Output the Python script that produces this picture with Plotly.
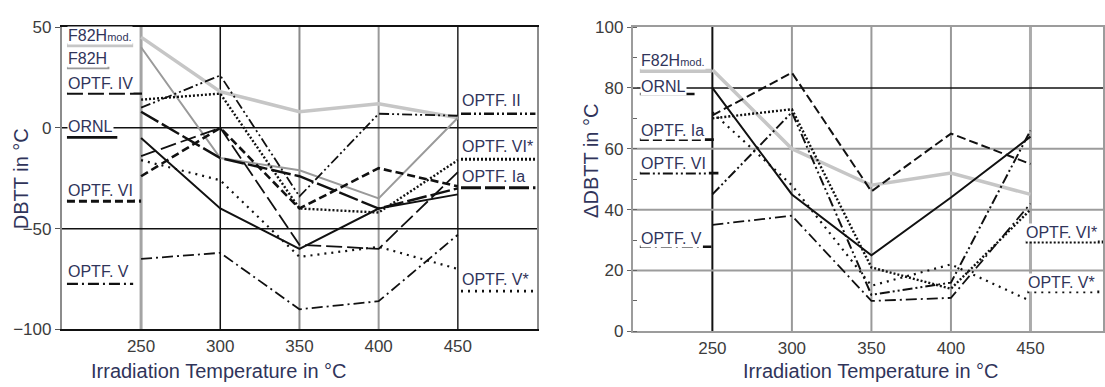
import plotly.graph_objects as go

# Irradiation temperatures (°C)
temps = [250, 300, 350, 400, 450]

# ---- Left panel: DBTT (°C) ----
dbtt_f82hmod = [45, 18, 8, 12, 5]
dbtt_f82h = [40, -15, -21, -35, 5]
dbtt_iv = [-14, 0, -58, -60, -22]
dbtt_ornl = [-5, -40, -60, -40, -33]
dbtt_vi = [-24, 0, -40, -20, -29]
dbtt_v = [-65, -62, -90, -86, -53]
dbtt_ii = [10, 26, -34, 7, 6]
dbtt_vistar = [14, 17, -40, -42, -16]
dbtt_ia = [8, -15, -24, -40, -30]
dbtt_vstar = [-16, -26, -64, -59, -70]

# ---- Right panel: ΔDBTT (°C) ----
ddbtt_f82hmod = [86, 60, 48, 52, 45]
ddbtt_ornl = [80, 45, 25, 44, 64]
ddbtt_ia = [71, 85, 46, 65, 55]
ddbtt_vi = [45, 72, 12, 16, 66]
ddbtt_v = [35, 38, 10, 11, 42]
ddbtt_vistar = [70, 73, 21, 14, 40]
ddbtt_vstar = [72, 48, 15, 22, 10]

x_ticks = [250, 300, 350, 400, 450]
y1_ticks = [-100, -50, 0, 50]
y2_ticks = [0, 20, 40, 60, 80, 100]

# line styles shared by curves and their key lines
STY = {
    "f82hmod": dict(color="#c6c6c6", width=3.5, dash="solid"),
    "f82h": dict(color="#9a9a9a", width=2, dash="solid"),
    "iv": dict(color="#111", width=1.8, dash="16px,5px"),
    "ornl": dict(color="#111", width=2, dash="solid"),
    "vi_l": dict(color="#111", width=2.6, dash="8px,4px"),
    "v": dict(color="#111", width=1.8, dash="11px,4px,2px,4px"),
    "ii": dict(color="#111", width=1.8, dash="10px,3px,2px,3px,2px,3px"),
    "vistar": dict(color="#111", width=2.4, dash="2px,2px"),
    "ia_l": dict(color="#111", width=2.4, dash="20px,4px"),
    "vstar": dict(color="#111", width=2.2, dash="2px,5px"),
    "ia_r": dict(color="#111", width=2, dash="9px,4px"),
    "vi_r": dict(color="#111", width=2, dash="10px,3px,2px,3px,2px,3px"),
}

fig = go.Figure()

left_series = [
    (dbtt_f82hmod, "f82hmod"), (dbtt_f82h, "f82h"), (dbtt_iv, "iv"),
    (dbtt_vi, "vi_l"), (dbtt_v, "v"), (dbtt_ii, "ii"), (dbtt_vistar, "vistar"),
    (dbtt_ia, "ia_l"), (dbtt_vstar, "vstar"), (dbtt_ornl, "ornl"),
]
for vals, key in left_series:
    fig.add_trace(go.Scatter(x=temps, y=vals, mode="lines", line=STY[key],
                             xaxis="x", yaxis="y", showlegend=False, hoverinfo="skip"))

right_series = [
    (ddbtt_f82hmod, "f82hmod"), (ddbtt_ia, "ia_r"), (ddbtt_vi, "vi_r"),
    (ddbtt_v, "v"), (ddbtt_vistar, "vistar"), (ddbtt_vstar, "vstar"),
    (ddbtt_ornl, "ornl"),
]
for vals, key in right_series:
    fig.add_trace(go.Scatter(x=temps, y=vals, mode="lines", line=STY[key],
                             xaxis="x2", yaxis="y2", showlegend=False, hoverinfo="skip"))

shapes = []
# grid lines (individual colours)
v1_colors = {250: ("#a4a4a4", 3), 300: ("#111", 1.5), 350: ("#8a8a8a", 2),
             400: ("#9a9a9a", 2), 450: ("#222", 1.5)}
for xv in x_ticks:
    c, w = v1_colors[xv]
    shapes.append(dict(type="line", xref="x", yref="y domain", x0=xv, x1=xv, y0=0, y1=1,
                       line=dict(color=c, width=w), layer="below"))
for yv in [-50, 0]:
    shapes.append(dict(type="line", xref="x domain", yref="y", x0=0, x1=1, y0=yv, y1=yv,
                       line=dict(color="#111", width=1.5), layer="below"))

v2_colors = {250: ("#111", 2), 300: ("#999", 2), 350: ("#999", 2),
             400: ("#999", 2), 450: ("#ababab", 3)}
for xv in x_ticks:
    c, w = v2_colors[xv]
    shapes.append(dict(type="line", xref="x2", yref="y2 domain", x0=xv, x1=xv, y0=0, y1=1,
                       line=dict(color=c, width=w), layer="below"))
for yv in [20, 40, 60, 80]:
    c, w = ("#111", 1.5) if yv == 80 else ("#9c9c9c", 2)
    shapes.append(dict(type="line", xref="x2 domain", yref="y2", x0=0, x1=1, y0=yv, y1=yv,
                       line=dict(color=c, width=w), layer="below"))

LBL = "#30345a"
annotations = []

def label(text, xref, yref, x, y, key, kx0, kx1, ky):
    annotations.append(dict(text=text, xref=xref, yref=yref, x=x, y=y, xanchor="left",
                            yanchor="middle", showarrow=False, bgcolor="white", borderpad=0,
                            font=dict(family="Liberation Sans, Arial, sans-serif", size=16, color=LBL)))
    st = STY[key]
    shapes.append(dict(type="line", xref=xref, yref=yref, x0=kx0, x1=kx1, y0=ky, y1=ky,
                       line=dict(color=st["color"], width=st["width"] + 0.6, dash=st["dash"]),
                       layer="above"))

MOD = 'F82H<span style="font-size:11px">mod.</span>'
# left panel, left column
label(MOD, "x", "y", 203.5, 46, "f82hmod", 203.2, 245, 41)
label("F82H", "x", "y", 203.5, 34.5, "f82h", 203.2, 230, 29.7)
label("OPTF. IV", "x", "y", 203.5, 22, "iv", 203.2, 250.6, 17)
label("ORNL", "x", "y", 203.5, 0.5, "ornl", 203.2, 235, -4.7)
label("OPTF. VI", "x", "y", 203.5, -31, "vi_l", 203.2, 250, -36.3)
label("OPTF. V", "x", "y", 203.5, -71.5, "v", 203.2, 245, -77.4)
# left panel, right column
label("OPTF. II", "x", "y", 452, 13.5, "ii", 452, 499, 7)
label("OPTF. VI*", "x", "y", 452, -9, "vistar", 452, 499, -15.6)
label("OPTF. Ia", "x", "y", 452, -24, "ia_l", 452, 499, -29.7)
label("OPTF. V*", "x", "y", 452, -75, "vstar", 452, 499, -81)
# right panel, left column
label(MOD, "x2", "y2", 204.4, 89, "f82hmod", 204.4, 249.4, 85.6)
label("ORNL", "x2", "y2", 204.4, 80.6, "ornl", 204.4, 238.8, 78)
label("OPTF. Ia", "x2", "y2", 204.4, 66, "ia_r", 204.4, 252.5, 63)
label("OPTF. VI", "x2", "y2", 204.4, 55, "vi_r", 204.4, 253.8, 52)
label("OPTF. V", "x2", "y2", 204.4, 30.6, "v", 204.4, 249.4, 27.8)
# right panel, right column
label("OPTF. VI*", "x2", "y2", 446.5, 32.5, "vistar", 447, 495.6, 29.4)
label("OPTF. V*", "x2", "y2", 448, 16, "vstar", 448, 495.6, 13)

TITLE_FONT = dict(family="Liberation Sans, Arial, sans-serif", size=20, color=LBL)
annotations += [
    dict(text="Irradiation Temperature in °C", xref="x", yref="paper", x=299, y=0,
         xanchor="center", yanchor="bottom", yshift=-7, showarrow=False, font=TITLE_FONT),
    dict(text="Irradiation Temperature in °C", xref="x2", yref="paper", x=350, y=0,
         xanchor="center", yanchor="bottom", yshift=-7, showarrow=False, font=TITLE_FONT),
    dict(text="DBTT in °C", xref="paper", yref="y", x=21 / 1105, y=-25, textangle=-90,
         xanchor="center", yanchor="middle", showarrow=False, font=TITLE_FONT),
    dict(text="ΔDBTT in °C", xref="paper", yref="y2", x=592 / 1105, y=56, textangle=-90,
         xanchor="center", yanchor="middle", showarrow=False, font=TITLE_FONT),
]

TICK_FONT = dict(family="Liberation Sans, Arial, sans-serif", size=17, color="#3c3c3c")
fig.update_layout(
    width=1105, height=387,
    margin=dict(l=0, r=0, t=0, b=0),
    paper_bgcolor="white", plot_bgcolor="white",
    shapes=shapes, annotations=annotations,
    xaxis=dict(domain=[62 / 1105, 538 / 1105], range=[200, 500], tickvals=x_ticks,
               showgrid=False, zeroline=False, showline=True, linecolor="#111", linewidth=1.5,
               mirror=True, ticks="", tickfont=TICK_FONT, anchor="y"),
    yaxis=dict(domain=[1 - 337 / 387, 1 - 19 / 387], range=[-100, 50], tickvals=y1_ticks,
               showgrid=False, zeroline=False, showline=True, linecolor="#8c8c8c", linewidth=2,
               mirror=True, ticks="outside", ticklen=5, tickcolor="#555",
               tickfont=TICK_FONT, anchor="x"),
    xaxis2=dict(domain=[634 / 1105, 1.0], range=[200, 495.6], tickvals=x_ticks,
                showgrid=False, zeroline=False, showline=True, linecolor="#9c9c9c", linewidth=2,
                mirror=True, ticks="", tickfont=TICK_FONT, anchor="y2"),
    yaxis2=dict(domain=[1 - 339 / 387, 1 - 19 / 387], range=[0, 100], tickvals=y2_ticks,
                showgrid=False, zeroline=False, showline=True, linecolor="#9c9c9c", linewidth=2,
                mirror=True, ticks="outside", ticklen=4, tickcolor="#666",
                minor=dict(ticks="inside", dtick=10, ticklen=4, tickcolor="#666"),
                tickfont=TICK_FONT, anchor="x2"),
)

fig.write_html("out.html")
